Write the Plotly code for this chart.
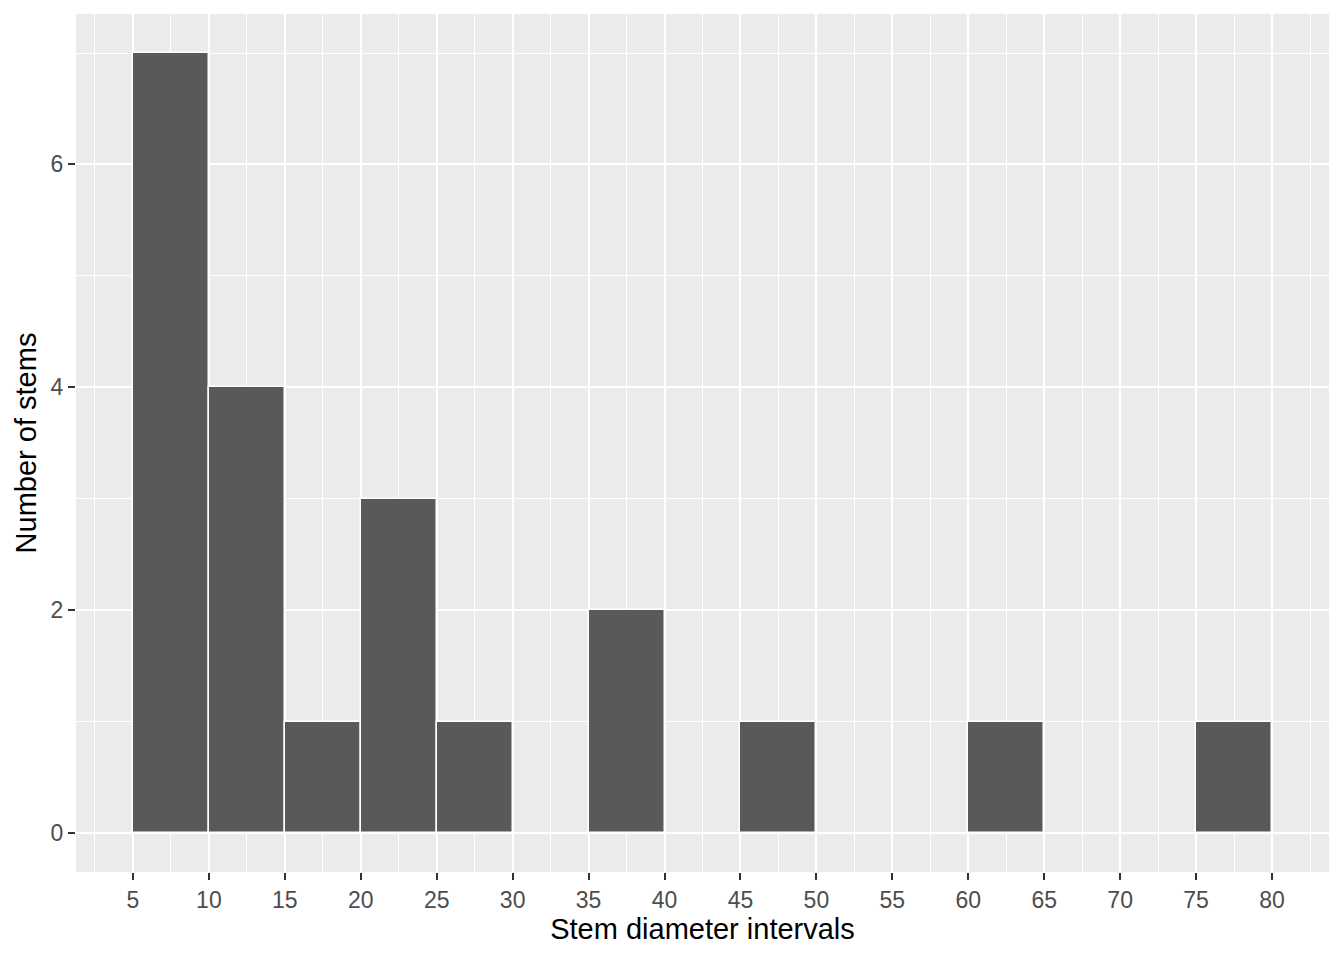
import plotly.graph_objects as go

# histogram bins (left edges, width 5) and counts of stems per bin
bin_left = [5, 10, 15, 20, 25, 35, 45, 60, 75]
counts = [7, 4, 1, 3, 1, 2, 1, 1, 1]
bin_width = 5

x_ticks = list(range(5, 85, 5))
y_ticks = [0, 2, 4, 6]

fig = go.Figure()
fig.add_trace(go.Bar(
    x=bin_left,
    y=counts,
    width=bin_width,
    offset=0,
    marker=dict(color="#595959", line=dict(color="white", width=1.5)),
    showlegend=False,
))

# page body adds an 8px offset, so the figure is a bit smaller than the window
fig.update_layout(
    width=1336,
    height=952,
    margin=dict(l=68, r=15, t=6, b=88),
    paper_bgcolor="white",
    plot_bgcolor="#EBEBEB",
    font=dict(family="Liberation Sans, Arial", size=23, color="#4D4D4D"),
    bargap=0,
)

fig.update_xaxes(
    range=[1.25, 83.75],
    tickvals=x_ticks,
    ticks="outside",
    ticklen=7,
    tickwidth=2,
    tickcolor="#333333",
    showgrid=True,
    gridcolor="white",
    gridwidth=2,
    minor=dict(dtick=2.5, tick0=0, showgrid=True, gridcolor="white", gridwidth=1),
    zeroline=False,
    showline=False,
    tickfont=dict(size=23, color="#4D4D4D"),
    title=dict(text="Stem diameter intervals", font=dict(size=29, color="black"), standoff=4),
)

fig.update_yaxes(
    range=[-0.35, 7.35],
    tickvals=y_ticks,
    ticks="outside",
    ticklen=7,
    tickwidth=2,
    tickcolor="#333333",
    showgrid=True,
    gridcolor="white",
    gridwidth=2,
    minor=dict(dtick=1, tick0=0, showgrid=True, gridcolor="white", gridwidth=1),
    zeroline=False,
    showline=False,
    tickfont=dict(size=23, color="#4D4D4D"),
    title=dict(text="Number of stems", font=dict(size=29, color="black"), standoff=5),
)

fig.write_html("out.html")
